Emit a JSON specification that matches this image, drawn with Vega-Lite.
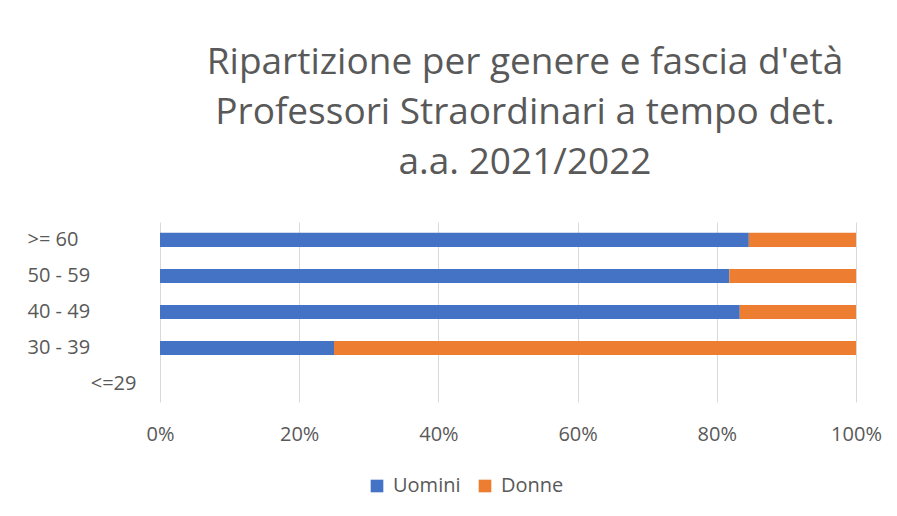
{
  "$schema": "https://vega.github.io/schema/vega-lite/v6.json",
  "autosize": {"type": "none"},
  "width": 696,
  "height": 180,
  "padding": {"left": 160, "top": 222, "right": 41, "bottom": 114},
  "background": "white",
  "title": {
    "text": ["Ripartizione per genere e fascia d'età", "Professori Straordinari a tempo det.", "a.a. 2021/2022"],
    "font": "Open Sans",
    "fontSize": 37,
    "fontWeight": "normal",
    "color": "#595959",
    "lineHeight": 50,
    "anchor": "middle",
    "dx": 17,
    "offset": 40
  },
  "data": {
    "values": [
      {"fascia": ">= 60", "genere": "Uomini", "quota": 84.6},
      {"fascia": ">= 60", "genere": "Donne", "quota": 15.4},
      {"fascia": "50 - 59", "genere": "Uomini", "quota": 81.8},
      {"fascia": "50 - 59", "genere": "Donne", "quota": 18.2},
      {"fascia": "40 - 49", "genere": "Uomini", "quota": 83.3},
      {"fascia": "40 - 49", "genere": "Donne", "quota": 16.7},
      {"fascia": "30 - 39", "genere": "Uomini", "quota": 25},
      {"fascia": "30 - 39", "genere": "Donne", "quota": 75}
    ]
  },
  "mark": {"type": "bar"},
  "encoding": {
    "y": {
      "field": "fascia",
      "type": "nominal",
      "scale": {"domain": [">= 60", "50 - 59", "40 - 49", "30 - 39", "<=29"], "paddingInner": 0.61, "paddingOuter": 0.3},
      "axis": {
        "title": null,
        "domain": false,
        "ticks": false,
        "grid": false,
        "labelFont": "Open Sans",
        "labelFontSize": 20,
        "labelColor": "#595959",
        "labelAlign": {"condition": {"test": "datum.value == '<=29'", "value": "right"}, "value": "left"},
        "labelPadding": {"condition": {"test": "datum.value == '<=29'", "value": 24}, "value": 133}
      }
    },
    "x": {
      "field": "quota",
      "type": "quantitative",
      "stack": "normalize",
      "scale": {"domain": [0, 1]},
      "axis": {
        "title": null,
        "format": ".0%",
        "values": [0, 0.2, 0.4, 0.6, 0.8, 1],
        "domain": false,
        "ticks": false,
        "grid": true,
        "gridColor": "#D9D9D9",
        "gridWidth": 1,
        "labelFlush": false,
        "labelFont": "Open Sans",
        "labelFontSize": 20,
        "labelColor": "#595959",
        "labelPadding": 22
      }
    },
    "order": {"field": "genere", "sort": "descending"},
    "color": {
      "field": "genere",
      "type": "nominal",
      "sort": ["Uomini", "Donne"],
      "scale": {"domain": ["Uomini", "Donne"], "range": ["#4472C4", "#ED7D31"]},
      "legend": {
        "title": null,
        "orient": "none",
        "legendX": 207,
        "legendY": 254,
        "direction": "horizontal",
        "symbolType": "square",
        "symbolSize": 160,
        "symbolStrokeWidth": 0,
        "labelFont": "Open Sans",
        "labelFontSize": 20,
        "labelColor": "#595959",
        "labelOffset": 6,
        "columnPadding": 14
      }
    }
  },
  "config": {"view": {"stroke": null}}
}
